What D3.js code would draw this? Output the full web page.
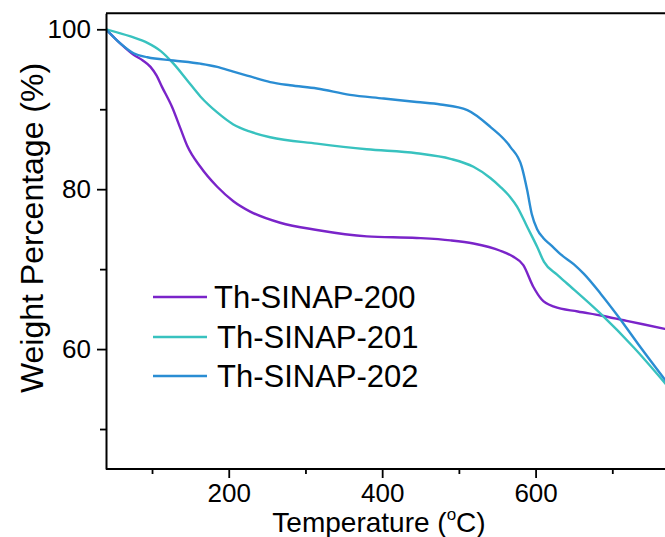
<!DOCTYPE html>
<html>
<head>
<meta charset="utf-8">
<script src="https://cdn.jsdelivr.net/npm/d3@7"></script>
<style>
  body { margin: 0; background: #fff; }
  svg { display: block; font-family: "Liberation Sans", Arial, sans-serif; }
</style>
</head>
<body>
<div id="chart"></div>
<script>
// TGA curves
var seriesNames = ["Th-SINAP-200", "Th-SINAP-201", "Th-SINAP-202"];
var seriesColors = ["#7a24c9", "#38c2bf", "#2a8dd3"];

var temp200 = [40, 60, 76, 88, 98, 106, 113, 126, 137, 146, 163, 185, 206, 228, 267, 315, 380, 445, 489, 519, 554, 570, 584, 597, 608, 624, 655, 685, 715, 740, 770];
var wt200   = [100, 98.1, 96.8, 96.1, 95.3, 94.2, 92.8, 90.3, 87.6, 85.4, 82.8, 80.3, 78.5, 77.2, 75.8, 74.9, 74.1, 73.9, 73.6, 73.2, 72.3, 71.6, 70.5, 67.8, 66.2, 65.3, 64.7, 64.2, 63.6, 63.1, 62.5];

var temp201 = [40, 72, 94, 111, 128, 146, 163, 185, 206, 228, 254, 315, 380, 445, 489, 519, 541, 554, 567, 576, 589, 602, 611, 628, 641, 685, 728, 770];
var wt201   = [100, 99.1, 98.3, 97.3, 95.7, 93.6, 91.6, 89.6, 88.1, 87.2, 86.5, 85.7, 85.0, 84.5, 83.8, 82.8, 81.4, 80.3, 79.0, 77.8, 75.3, 72.8, 70.9, 69.3, 68.2, 64.4, 60.2, 55.6];

var temp202 = [40, 59, 76, 94, 128, 163, 185, 206, 228, 254, 280, 315, 358, 402, 445, 476, 511, 541, 567, 582, 589, 595, 602, 610, 620, 632, 650, 663, 685, 706, 737, 770];
var wt202   = [100, 98.2, 97.0, 96.5, 96.1, 95.7, 95.3, 94.7, 94.1, 93.4, 93.0, 92.6, 91.8, 91.35, 90.9, 90.6, 89.9, 87.8, 85.3, 82.8, 79.9, 76.9, 75.0, 73.9, 73.0, 71.9, 70.6, 69.4, 66.9, 64.3, 60.2, 56.0];

var xMajor = [200, 400, 600];
var xMinor = [100, 300, 500, 700];
var yMajor = [60, 80, 100];
var yMinor = [50, 70, 90];

var svgWidth = 665, svgHeight = 537;
var plot = {left: 106, right: 666, top: 13.3, bottom: 469};

var svg = d3.select("#chart").append("svg")
    .attr("width", svgWidth)
    .attr("height", svgHeight);

var x = d3.scaleLinear().domain([40, 770]).range([plot.left, plot.right]);
var y = d3.scaleLinear().domain([45, 102]).range([plot.bottom, plot.top]);

// build series rows
var allTemps = [temp200, temp201, temp202];
var allWts = [wt200, wt201, wt202];
var series = seriesNames.map(function(name, i){
    return {
        name: name,
        color: seriesColors[i],
        points: allTemps[i].map(function(t, j){ return {t: t, w: allWts[i][j]}; })
    };
});

var line = d3.line()
    .x(function(d){ return x(d.t); })
    .y(function(d){ return y(d.w); })
    .curve(d3.curveMonotoneX);

svg.append("defs").append("clipPath").attr("id", "plotclip")
  .append("rect")
    .attr("x", plot.left).attr("y", plot.top)
    .attr("width", plot.right - plot.left).attr("height", plot.bottom - plot.top);

svg.append("g").attr("clip-path", "url(#plotclip)")
  .selectAll("path")
  .data(series)
  .enter()
  .append("path")
    .attr("d", function(d){ return line(d.points); })
    .attr("fill", "none")
    .attr("stroke", function(d){ return d.color; })
    .attr("stroke-width", 2.4)
    .attr("stroke-linejoin", "round");

// frame (right side falls outside the picture)
svg.append("line")
    .attr("x1", plot.left).attr("x2", svgWidth + 5)
    .attr("y1", plot.top).attr("y2", plot.top)
    .attr("stroke", "#000").attr("stroke-width", 2);

// x axis
var xAxis = svg.append("g")
    .attr("transform", "translate(0," + plot.bottom + ")")
    .call(d3.axisBottom(x).tickValues(xMajor).tickSize(9).tickSizeOuter(0));
svg.append("g")
    .attr("transform", "translate(0," + plot.bottom + ")")
    .call(d3.axisBottom(x).tickValues(xMinor).tickSize(5).tickSizeOuter(0).tickFormat(""))
    .select(".domain").remove();

// y axis
var yAxis = svg.append("g")
    .attr("transform", "translate(" + plot.left + ",0)")
    .call(d3.axisLeft(y).tickValues(yMajor).tickSize(9).tickSizeOuter(0).tickPadding(6));
svg.append("g")
    .attr("transform", "translate(" + plot.left + ",0)")
    .call(d3.axisLeft(y).tickValues(yMinor).tickSize(6).tickSizeOuter(0).tickFormat(""))
    .select(".domain").remove();

svg.selectAll(".domain").attr("stroke-width", 2);
svg.selectAll(".tick line").attr("stroke-width", 1.8);
svg.selectAll(".tick text")
    .attr("font-family", "Liberation Sans, Arial, sans-serif")
    .attr("fill", "#000");
yAxis.selectAll(".tick text").attr("font-size", 26);
xAxis.selectAll(".tick text")
    .attr("font-size", 26)
    .attr("y", 33)
    .attr("dy", 0);
xAxis.select(".domain").attr("d", "M" + plot.left + ",0H" + (svgWidth + 5));

// axis titles
var xTitle = svg.append("text")
    .attr("x", 379).attr("y", 532)
    .attr("text-anchor", "middle")
    .attr("font-size", 28)
    .attr("fill", "#000");
xTitle.append("tspan").text("Temperature (");
xTitle.append("tspan").attr("font-size", 17).attr("dy", -12).text("o");
xTitle.append("tspan").attr("dy", 12).text("C)");

svg.append("text")
    .attr("transform", "translate(43,228) rotate(-90)")
    .attr("text-anchor", "middle")
    .attr("font-size", 32)
    .attr("fill", "#000")
    .text("Weight Percentage (%)");

// legend
var legendY = [297, 337, 376];
var legend = svg.append("g").selectAll("g")
    .data(series)
    .enter()
    .append("g")
    .attr("transform", function(d, i){ return "translate(0," + legendY[i] + ")"; });
legend.append("line")
    .attr("x1", 153).attr("x2", 207)
    .attr("stroke", function(d){ return d.color; })
    .attr("stroke-width", 2.4);
legend.append("text")
    .attr("x", function(d, i){ return i == 0 ? 214 : 217; })
    .attr("y", 11)
    .attr("font-size", 31)
    .attr("fill", "#000")
    .text(function(d){ return d.name; });
</script>
</body>
</html>
